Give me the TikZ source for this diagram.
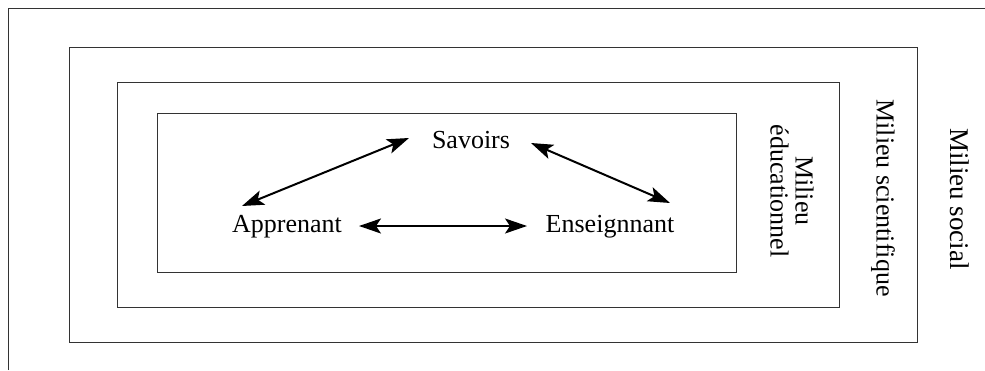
\documentclass[tikz,border=0pt]{standalone}
\usepackage{fontspec}
\setmainfont{Liberation Serif}
\usetikzlibrary{arrows.meta}
\begin{document}
\begin{tikzpicture}[x=1pt,y=-1pt,
  frame/.style={draw=black!80,line width=1pt},
  lbl/.style={font=\fontsize{26}{26}\selectfont,inner sep=0pt},
  vlbl/.style={font=\fontsize{26}{25}\selectfont,inner sep=0pt,rotate=-90,align=center},
  rel/.style={line width=2pt,{Stealth[length=22pt,width=15pt,inset=5pt]}-{Stealth[length=22pt,width=15pt,inset=5pt]}}]
\useasboundingbox (0,0) rectangle (985,370);
\fill[white] (0,0) rectangle (985,370);
% outer frame (cut at right and bottom)
\draw[frame] (8,370) -- (8,8) -- (985,8);
\draw[frame] (69,47) rectangle (917,342);
\draw[frame] (117,82) rectangle (839,307);
\draw[frame] (157,113) rectangle (736,272);
% labels
\node[lbl,anchor=base] (sav) at (471,148) {Savoirs};
\node[lbl,anchor=base] (app) at (287,232) {Apprenant};
\node[lbl,anchor=base] (ens) at (610,232) {Enseignnant};
\node[vlbl,font=\fontsize{27}{25}\selectfont] (soc) at (960,199) {Milieu social};
\node[vlbl] (sci) at (883,198) {Milieu scientifique};
\node[vlbl] (edu) at (792,191) {Milieu\\éducationnel};
% arrow ends
\coordinate (sa) at (409,138);
\coordinate (as) at (242,206);
\coordinate (se) at (531,143);
\coordinate (es) at (670,203);
\coordinate (ae) at (359,226);
\coordinate (ea) at (527,226);
\draw[rel] (as) -- (sa);
\draw[rel] (se) -- (es);
\draw[rel] (ae) -- (ea);
\end{tikzpicture}
\end{document}
